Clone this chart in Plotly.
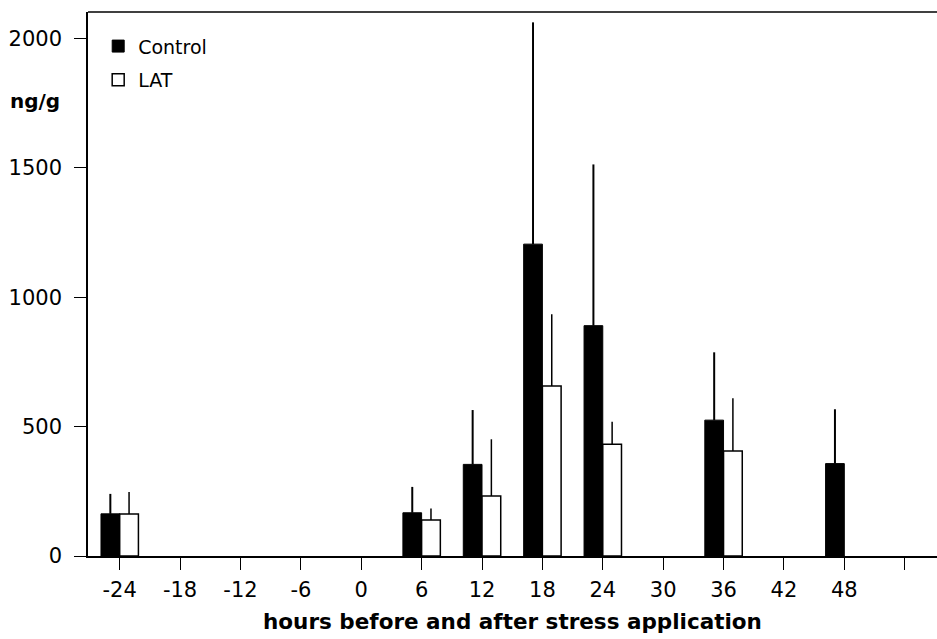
import plotly.graph_objects as go

hours = [-24, -18, -12, -6, 0, 6, 12, 18, 24, 30, 36, 42, 48]
control = [163, None, None, None, None, 167, 354, 1205, 890, None, 525, None, 357]
control_err = [77, None, None, None, None, 100, 210, 857, 623, None, 262, None, 210]
lat = [162, None, None, None, None, 139, 232, 657, 432, None, 406, None, None]
lat_err = [85, None, None, None, None, 45, 219, 277, 87, None, 204, None, None]

tick_vals = [-24, -18, -12, -6, 0, 6, 12, 18, 24, 30, 36, 42, 48, 54]
tick_text = ["-24", "-18", "-12", "-6", "0", "6", "12", "18", "24", "30", "36", "42", "48", ""]
y_ticks = [0, 500, 1000, 1500, 2000]

FONT = "DejaVu Sans"
BW = 1.86

fig = go.Figure()
fig.add_trace(go.Bar(
    x=hours, y=control, name="Control", width=BW, offset=-BW, legendgroup="c",
    marker=dict(color="black", line=dict(color="black", width=1)),
    error_y=dict(type="data", array=control_err, symmetric=False,
                 arrayminus=[0] * len(hours), width=0, thickness=2, color="black"),
))
fig.add_trace(go.Bar(
    x=hours, y=lat, name="LAT", width=BW, offset=0, legendgroup="l",
    marker=dict(color="white", line=dict(color="black", width=1.5)),
    error_y=dict(type="data", array=lat_err, symmetric=False,
                 arrayminus=[0] * len(hours), width=0, thickness=1.5, color="black"),
))

fig.update_layout(
    width=937, height=639,
    margin=dict(l=88, r=0, t=12, b=83, autoexpand=False),
    paper_bgcolor="white", plot_bgcolor="white",
    barmode="overlay",
    font=dict(family=FONT, size=21, color="black"),
    showlegend=True,
    legend=dict(x=0.012, y=0.972, xanchor="left", yanchor="top",
                bgcolor="rgba(0,0,0,0)", font=dict(size=19, family=FONT),
                traceorder="grouped", tracegroupgap=6),
    xaxis=dict(range=[-27.15, 57.21], tickmode="array", tickvals=tick_vals,
               ticktext=tick_text, ticks="outside", ticklen=12, tickwidth=1,
               tickcolor="black", showline=True, linecolor="black", linewidth=2,
               showgrid=False, zeroline=False, ticklabelstandoff=2, automargin=False,
               title=dict(text="<b>hours before and after stress application</b>",
                          font=dict(size=21.5, family=FONT), standoff=13)),
    yaxis=dict(range=[0, 2102], tickmode="array", tickvals=y_ticks,
               ticks="outside", ticklen=12, tickwidth=1, tickcolor="black",
               showline=True, linecolor="black", linewidth=1.5, automargin=False,
               showgrid=False, zeroline=False, ticklabelstandoff=8),
)

fig.add_shape(type="line", xref="paper", yref="paper", x0=0, x1=1, y0=1, y1=1,
              line=dict(color="black", width=1.5))
fig.add_annotation(text="<b>ng/g</b>", xref="paper", yref="paper",
                   x=-0.0306, y=0.836, xanchor="right", yanchor="middle",
                   showarrow=False, font=dict(size=20, family=FONT))

fig.write_html("out.html", config={"displayModeBar": False},
               post_script="document.body.style.margin='0';")
